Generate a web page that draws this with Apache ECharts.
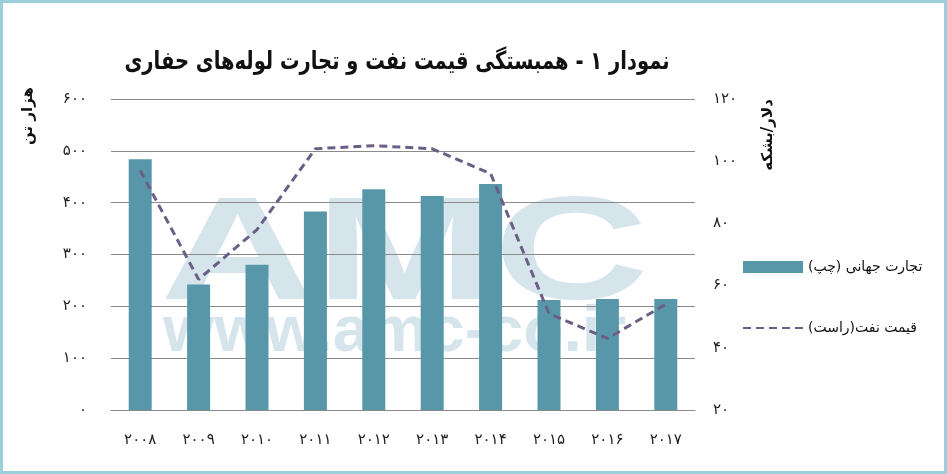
<!DOCTYPE html>
<html>
<head>
<meta charset="utf-8" />
<title></title>
<style type="text/css">
  body, html {margin:0;padding:0;background:#fff;}
  #main {width:947px;height:474px;}
</style>
<script src="https://cdn.jsdelivr.net/npm/echarts@6/dist/echarts.min.js"></script>
</head>
<body>
<div id="main"></div>
<script type="text/javascript">
// داده‌ها
var years = ['2008', '2009', '2010', '2011', '2012', '2013', '2014', '2015', '2016', '2017'];
var trade = [484, 242, 280, 383, 426, 413, 436, 212, 214, 214];   // هزار تن (چپ)
var oil = [97, 62, 78, 104, 105, 104, 96, 51, 43, 54];            // دلار/بشکه (راست)
var tradeName = 'تجارت جهانی (چپ)';
var oilName = 'قیمت نفت(راست)';
var titleText = 'نمودار ۱ - همبستگی قیمت نفت و تجارت لوله‌های حفاری';

var FONT = '"DejaVu Sans", "Noto Sans", sans-serif';
function toFa(v) {
    return String(v).replace(/\d/g, function (d) { return '۰۱۲۳۴۵۶۷۸۹'[d]; });
}
function rtl(s) { return '\u200F' + s + '\u200F'; }

var chart = echarts.init(document.getElementById('main'));
var option = {
    backgroundColor: '#fff',
    animation: false,
    textStyle: {fontFamily: FONT},
    grid: {left: 111, right: 252, top: 99, bottom: 64},
    legend: {
        orient: 'vertical',
        left: 737,
        top: 255,
        itemWidth: 60,
        itemHeight: 12,
        itemGap: 47,
        textStyle: {fontFamily: FONT, fontSize: 14, color: '#111'},
        formatter: function (n) { return rtl(n); },
        data: [
            {name: tradeName, icon: 'rect'},
            {name: oilName, itemStyle: {opacity: 0, color: 'rgba(0,0,0,0)', borderWidth: 0}}
        ]
    },
    xAxis: {
        type: 'category',
        data: years,
        boundaryGap: true,
        axisLine: {lineStyle: {color: '#8a8a8a', width: 1}},
        axisTick: {length: 9, lineStyle: {color: '#8a8a8a'}},
        axisLabel: {
            margin: 23, fontSize: 15, color: '#222', fontFamily: FONT,
            formatter: function (v) { return toFa(v); }
        }
    },
    yAxis: [
        {
            type: 'value', min: 0, max: 600, interval: 100, position: 'left',
            axisLine: {show: false}, axisTick: {show: false},
            splitLine: {lineStyle: {color: '#8a8a8a', width: 1}},
            axisLabel: {
                margin: 24, fontSize: 15, color: '#222', fontFamily: FONT,
                formatter: function (v) { return toFa(v); }
            }
        },
        {
            type: 'value', min: 20, max: 120, interval: 20, position: 'right',
            axisLine: {show: false}, axisTick: {show: false},
            splitLine: {show: false},
            axisLabel: {
                margin: 18, fontSize: 15, color: '#222', fontFamily: FONT,
                formatter: function (v) { return toFa(v); }
            }
        }
    ],
    series: [
        {
            name: tradeName,
            type: 'bar',
            yAxisIndex: 0,
            barWidth: 23,
            itemStyle: {color: '#5797a9'},
            data: trade
        },
        {
            name: oilName,
            type: 'line',
            yAxisIndex: 1,
            symbol: 'none',
            z: 3,
            lineStyle: {color: '#6b5f86', width: 3, type: [8, 5]},
            itemStyle: {color: '#6b5f86'},
            data: oil
        }
    ],
    graphic: [
        // واترمارک
        {
            type: 'text', z: -10, x: 160, y: 258, scaleX: 1.46,
            style: {text: 'AMC', fill: '#d5e5eb', font: 'bold 147px "Liberation Sans", Arial, sans-serif',
                    textAlign: 'left', textVerticalAlign: 'middle'}
        },
        {
            type: 'text', z: -10, x: 163, y: 333, scaleX: 1.03,
            style: {text: 'www.amc-co.ir', fill: '#d5e5eb', font: 'bold 64px "Liberation Sans", Arial, sans-serif',
                    textAlign: 'left', textVerticalAlign: 'middle'}
        },
        // عنوان
        {
            type: 'text', x: 397, y: 62, scaleX: 0.78,
            style: {text: rtl(titleText), fill: '#111', font: 'bold 25px ' + FONT,
                    textAlign: 'center', textVerticalAlign: 'middle'}
        },
        // نام محورها
        {
            type: 'text', x: 28, y: 116, rotation: Math.PI / 2,
            style: {text: rtl('هزار تن'), fill: '#111', font: 'bold 15px ' + FONT,
                    textAlign: 'center', textVerticalAlign: 'middle'}
        },
        {
            type: 'text', x: 768, y: 135, rotation: Math.PI / 2,
            style: {text: rtl('دلار/بشکه'), fill: '#111', font: 'bold 15px ' + FONT,
                    textAlign: 'center', textVerticalAlign: 'middle'}
        },
        // قاب
        {
            type: 'rect', z: 100,
            shape: {x: 1.5, y: 1.5, width: 944, height: 471},
            style: {fill: 'none', stroke: '#9ccfdc', lineWidth: 3}
        }
    ]
};
chart.setOption(option);
</script>
</body>
</html>
